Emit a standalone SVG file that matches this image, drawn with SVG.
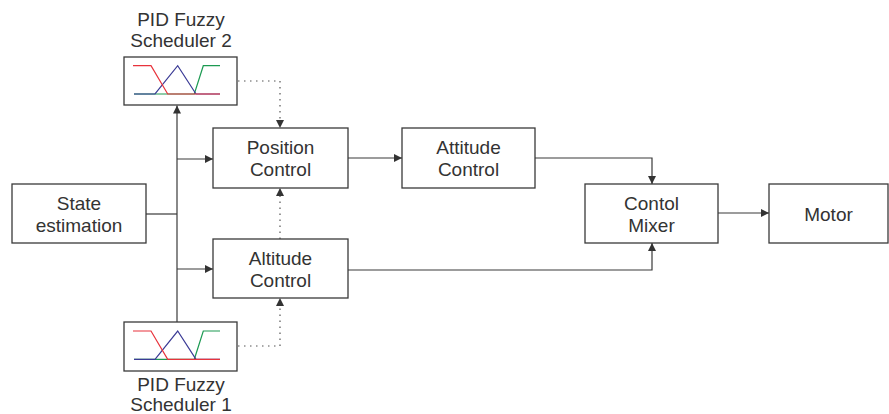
<svg xmlns="http://www.w3.org/2000/svg" width="889" height="414" viewBox="0 0 889 414">
<style>
.box{fill:#fff;stroke:#3a3a3a;stroke-width:1.3}
.t{font-family:"Liberation Sans",Arial,sans-serif;font-size:19px;fill:#333;text-anchor:middle}
.ln{fill:none;stroke:#3a3a3a;stroke-width:1.2}
.dt{fill:none;stroke:#555;stroke-width:1.2;stroke-dasharray:1.5 4.5}
.r{fill:none;stroke:#e8333c;stroke-width:1.2}
.b{fill:none;stroke:#3b3b96;stroke-width:1.2}
.g{fill:none;stroke:#1c9a52;stroke-width:1.2}
</style>
<defs>
<marker id="ah" viewBox="0 0 10 10" refX="10" refY="5" markerWidth="8" markerHeight="8" markerUnits="userSpaceOnUse" orient="auto">
<path d="M0,0 L10,5 L0,10 z" fill="#333"/>
</marker>
<g id="mf">
<path class="g" d="M134,94 L194.3,94 L203.3,65.7 L220,65.7"/>
<path class="b" d="M134,94 L155,94 L177.7,65.7 L196,94 L220,94"/>
<path class="r" d="M133,65.7 L151,65.7 L167.7,94 L220,94"/>
</g>
</defs>
<g id="connectors">
<path class="ln" d="M177,322 L177,105.5" marker-end="url(#ah)"/>
<path class="ln" d="M146,214 L177,214"/>
<path class="ln" d="M177,159 L213,159" marker-end="url(#ah)"/>
<path class="ln" d="M177,269 L213,269" marker-end="url(#ah)"/>
<path class="ln" d="M348,158 L402,158" marker-end="url(#ah)"/>
<path class="ln" d="M535,158 L652,158 L652,184" marker-end="url(#ah)"/>
<path class="ln" d="M348,270 L652,270 L652,243" marker-end="url(#ah)"/>
<path class="ln" d="M718,213 L769,213" marker-end="url(#ah)"/>
<path class="dt" d="M238,81 L280,81 L280,128" marker-end="url(#ah)"/>
<path class="dt" d="M280,239 L280,188" marker-end="url(#ah)"/>
<path class="dt" d="M238,346 L280,346 L280,298" marker-end="url(#ah)"/>
</g>
<g id="scheduler2">
<rect class="box" x="124" y="57" width="113" height="48"/>
<use href="#mf"/>
<text class="t" x="181" y="26">PID Fuzzy</text>
<text class="t" x="181" y="47">Scheduler 2</text>
</g>
<g id="scheduler1">
<rect class="box" x="124" y="322" width="113" height="49"/>
<use href="#mf" transform="translate(0,265.3)"/>
<text class="t" x="181" y="391">PID Fuzzy</text>
<text class="t" x="181" y="411">Scheduler 1</text>
</g>
<g id="state">
<rect class="box" x="12" y="184" width="134" height="59"/>
<text class="t" x="79" y="209.5">State</text>
<text class="t" x="79" y="231.5">estimation</text>
</g>
<g id="position">
<rect class="box" x="213" y="128" width="135" height="60"/>
<text class="t" x="280.5" y="154">Position</text>
<text class="t" x="280.5" y="176">Control</text>
</g>
<g id="altitude">
<rect class="box" x="213" y="239" width="135" height="59"/>
<text class="t" x="280.5" y="264.5">Altitude</text>
<text class="t" x="280.5" y="286.5">Control</text>
</g>
<g id="attitude">
<rect class="box" x="402" y="128" width="133" height="60"/>
<text class="t" x="468.5" y="154">Attitude</text>
<text class="t" x="468.5" y="176">Control</text>
</g>
<g id="mixer">
<rect class="box" x="585" y="184" width="133" height="59"/>
<text class="t" x="651.5" y="209.5">Contol</text>
<text class="t" x="651.5" y="231.5">Mixer</text>
</g>
<g id="motor">
<rect class="box" x="769" y="184" width="119" height="59"/>
<text class="t" x="828.5" y="220.5">Motor</text>
</g>
</svg>
